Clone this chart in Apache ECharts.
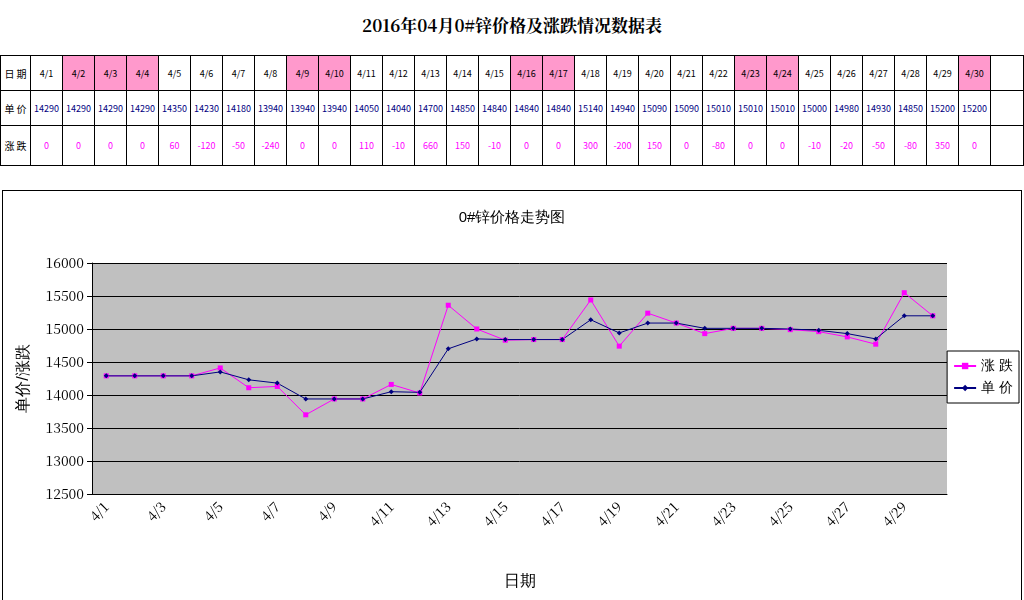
<!DOCTYPE html>
<html><head><meta charset="utf-8">
<script src="https://cdn.jsdelivr.net/npm/echarts@6/dist/echarts.min.js"></script>
<style>
body{margin:0;width:1024px;height:600px;overflow:hidden;background:#fff;font-family:"Noto Sans CJK SC",sans-serif}
#title{position:absolute;left:0;top:12px;width:1024px;text-align:center;font:bold 17px "Noto Serif CJK SC","Noto Sans CJK SC",serif}
table{position:absolute;left:0;top:55px;border-collapse:collapse;font-size:9px}
td{border:1px solid #000;width:31px;text-align:center;padding:0;color:#000080}
td.h{width:29px;color:#000;font-size:10px}
td.pk{background:#ff99cc}
td.m{color:#ff00ff}
#chart{position:absolute;left:2px;top:190px;width:1018px;height:410px;border:1px solid #000;border-bottom:none}
</style></head><body>
<div id="title">2016年04月0#锌价格及涨跌情况数据表</div>
<table id="tb"></table>
<div id="chart"></div>
<script>
// 数据
const days = ['4/1','4/2','4/3','4/4','4/5','4/6','4/7','4/8','4/9','4/10','4/11','4/12','4/13','4/14','4/15','4/16','4/17','4/18','4/19','4/20','4/21','4/22','4/23','4/24','4/25','4/26','4/27','4/28','4/29','4/30']
const holidays = ['4/2','4/3','4/4','4/9','4/10','4/16','4/17','4/23','4/24','4/30']
const prices = [14290,14290,14290,14290,14350,14230,14180,13940,13940,13940,14050,14040,14700,14850,14840,14840,14840,15140,14940,15090,15090,15010,15010,15010,15000,14980,14930,14850,15200,15200]
const changes = [0,0,0,0,60,-120,-50,-240,0,0,110,-10,660,150,-10,0,0,300,-200,150,0,-80,0,0,-10,-20,-50,-80,350,0]
const changeLine = [14290,14290,14290,14290,14410,14110,14130,13700,13940,13940,14160,14030,15360,15000,14830,14840,14840,15440,14740,15240,15090,14930,15010,15010,14990,14960,14880,14770,15550,15200]

// 表格
let html = '<tr style="height:35px"><td class="h">日 期</td>' +
  days.map(d => `<td class="${holidays.includes(d) ? 'pk' : ''}" style="color:#000">${d}</td>`).join('') + '<td style="width:32px"></td></tr>'
html += '<tr style="height:35px"><td class="h">单 价</td>' + prices.map(p => `<td>${p}</td>`).join('') + '<td></td></tr>'
html += '<tr style="height:40px"><td class="h">涨 跌</td>' + changes.map(c => `<td class="m">${c}</td>`).join('') + '<td></td></tr>'
document.getElementById('tb').innerHTML = html

const chart = echarts.init(document.getElementById('chart'))
const serif = '"Noto Serif CJK SC","DejaVu Serif",serif'
chart.setOption({
  animation: false,
  title: {text: '0#锌价格走势图', left: 'center', top: 14, textStyle: {fontSize: 15, fontWeight: 'normal', color: '#000'}},
  legend: {
    orient: 'vertical', right: 2, top: 160, padding: [8, 6], itemGap: 8,
    borderColor: '#000', borderWidth: 1, itemWidth: 22, itemHeight: 8,
    textStyle: {fontSize: 14, color: '#000'}, data: ['涨 跌', '单 价']
  },
  grid: {left: 89, right: 74, top: 72, bottom: 107},
  xAxis: {
    type: 'category', data: days, boundaryGap: true,
    axisLine: {lineStyle: {color: '#000'}},
    axisTick: {interval: 1, alignWithLabel: true, lineStyle: {color: '#000'}},
    axisLabel: {interval: 1, rotate: 45, color: '#000', fontSize: 14, fontFamily: serif, margin: 10},
    name: '日期', nameLocation: 'middle', nameGap: 80, nameTextStyle: {fontSize: 16, color: '#000'}
  },
  yAxis: {
    type: 'value', min: 12500, max: 16000, interval: 500,
    axisLine: {show: true, lineStyle: {color: '#000'}},
    axisTick: {show: true, lineStyle: {color: '#000'}},
    axisLabel: {color: '#000', fontSize: 14, fontFamily: serif, formatter: v => String(v)},
    splitLine: {lineStyle: {color: '#000'}},
    splitArea: {show: true, areaStyle: {color: ['#c0c0c0']}},
    name: '单价/涨跌', nameLocation: 'middle', nameGap: 60, nameTextStyle: {fontSize: 16, color: '#000'}
  },
  series: [
    {name: '涨 跌', type: 'line', data: changeLine, symbol: 'rect', symbolSize: 5,
      itemStyle: {color: '#ff00ff'}, lineStyle: {width: 1, color: '#ff00ff'}},
    {name: '单 价', type: 'line', data: prices, symbol: 'diamond', symbolSize: 5,
      itemStyle: {color: '#000080'}, lineStyle: {width: 1, color: '#000080'}}
  ]
})
</script>
</body></html>
